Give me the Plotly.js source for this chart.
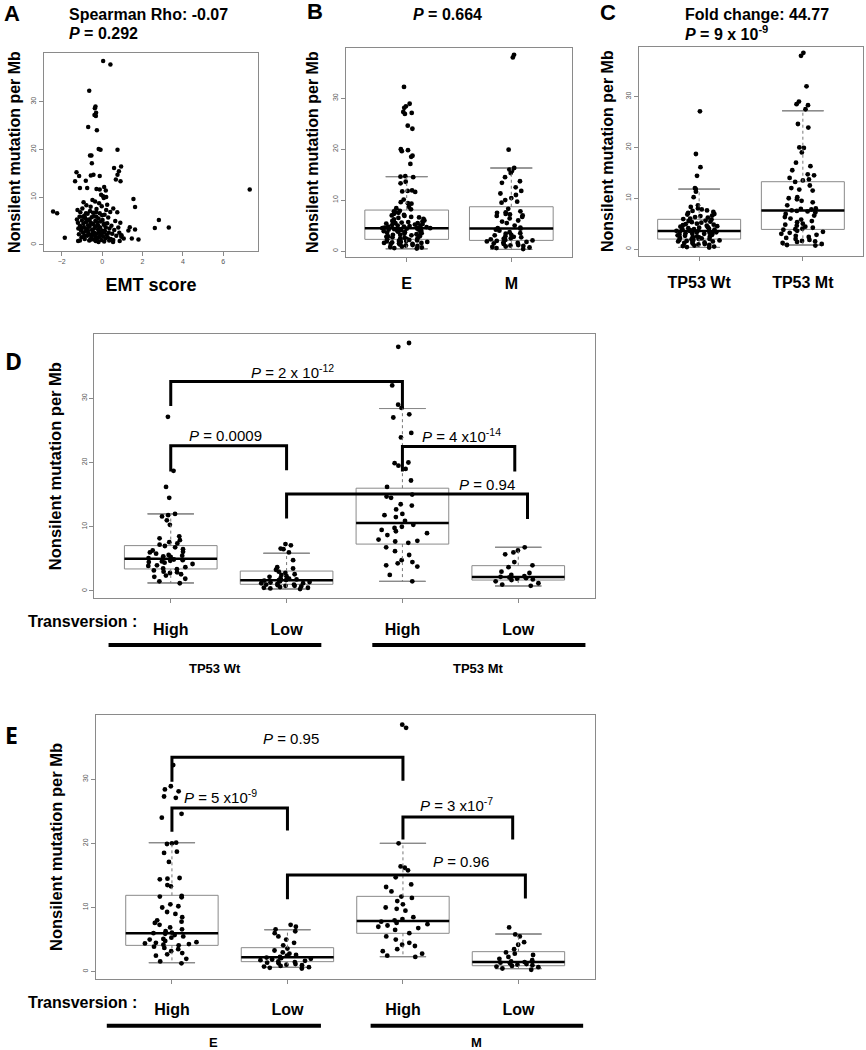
<!DOCTYPE html>
<html><head><meta charset="utf-8">
<script src="https://cdn.plot.ly/plotly-3.0.1.min.js"></script>
<style>html,body{margin:0;padding:0;background:#fff}#chart{width:866px;height:1050px}</style>
</head><body><div id="chart"></div>
<script>
// ---------- Panel A : EMT score vs nonsilent mutation rate ----------
const emtScore = [0.05,0.41,-0.64,-0.33,-0.36,-0.3,-0.38,-0.31,-0.69,-0.26,-0.6,-0.53,-0.51,-0.17,-0.08,0.76,-1.27,-1.14,-1.34,-0.81,-0.43,-0.56,-0.12,0.59,0.94,0.83,0.76,0.68,0.91,-1.1,-0.74,-0.28,-0.12,0.1,0.18,-0.05,0.05,0.2,1.55,1.63,7.31,-2.43,-2.23,-1.85,-1.19,2.61,2.81,3.3,1.37,1.3,1.63,1.47,1.8,0.96,1.07,0.54,0.87,
-1.25,-1.2,-1.18,-1.15,-1.12,-1.1,-1.08,-1.05,-1.02,-1.0,-0.98,-0.95,-0.93,-0.9,-0.88,-0.86,-0.84,-0.82,-0.8,-0.78,-0.76,-0.74,-0.72,-0.7,-0.68,-0.66,-0.64,-0.62,-0.6,-0.58,-0.56,-0.54,-0.52,-0.5,-0.48,-0.46,-0.44,-0.42,-0.4,-0.38,-0.36,-0.34,-0.32,-0.3,-0.28,-0.26,-0.24,-0.22,-0.2,-0.18,-0.16,-0.14,-0.12,-0.1,-0.08,-0.06,-0.04,-0.02,0.0,0.02,0.04,0.06,0.08,0.1,0.12,0.14,0.16,0.18,0.2,0.22,0.25,0.28,0.3,0.33,0.36,0.4,0.43,0.46,0.5,0.55,0.6,0.65,0.7,0.75,0.8,0.85,0.9,0.95,
-1.22,-0.92,-0.57,-0.35,-0.15,0.08,0.25,-0.62,-0.45,-0.29,-0.7,-0.52,-0.33,-0.18,-0.05,-0.88,-1.0,-0.6,-0.4,-0.2,0.0,-0.3,-0.8,-1.1,0.12,0.35,0.55,-0.95,-0.75,-0.5];
const mutRateA = [38.5,37.8,32.3,29.0,28.6,27.7,27.2,27.0,24.7,24.0,18.7,18.7,17.1,20.1,19.9,19.9,15.2,14.4,13.3,13.4,14.7,14.5,14.4,16.1,16.4,15.4,14.7,13.7,13.3,11.9,11.9,11.7,11.6,12.1,11.4,10.5,10.2,10.0,9.6,7.9,11.6,7.0,6.6,1.5,0.8,3.5,5.2,3.6,3.7,3.0,3.2,1.3,1.1,2.0,1.3,0.6,0.8,
5.3,4.6,3.4,2.2,5.9,4.0,6.8,3.0,1.6,5.1,7.6,2.6,4.4,3.7,6.1,1.2,5.6,2.9,4.8,8.3,3.3,1.9,6.5,4.1,2.4,5.3,0.9,3.8,7.1,2.1,4.6,1.5,5.8,3.1,9.4,2.7,4.3,1.1,6.0,3.5,2.0,5.0,0.8,3.9,7.5,2.3,4.7,1.4,3.2,5.5,2.8,1.7,6.6,3.6,2.2,4.9,1.0,8.1,3.0,5.2,1.8,2.6,4.2,0.7,6.3,2.9,1.3,3.7,7.3,2.1,4.5,1.6,5.7,2.5,3.4,6.9,1.2,4.0,2.3,7.6,3.1,5.0,1.9,6.8,3.6,2.5,4.6,1.7,
7.3,8.9,8.0,9.1,8.7,9.8,8.4,5.2,6.7,5.9,3.0,2.0,1.4,0.6,2.5,2.0,3.5,1.0,2.6,4.1,6.2,6.8,6.6,0.9,4.4,0.9,1.0,5.9,5.0,4.4];
const emtTicks = [-2,0,2,4,6];

// ---------- Panel B : E vs M ----------
const catsB = ['E','M'];
const valsB_E = [32.2,28.9,28.4,28.1,27.3,27.1,26.9,24.6,24.0,20.0,19.8,19.6,18.7,18.5,17.1,14.7,14.6,14.5,13.6,13.3,11.9,11.8,11.7,11.6,10.1,9.6,9.4,9.3,8.7,8.4,8.2,7.9,7.8,7.6,7.5,7.3,7.1,7.0,6.9,6.7,6.6,6.5,6.3,6.2,6.0,5.9,5.8,5.7,5.6,5.5,5.5,5.4,5.3,5.2,5.1,5.0,5.0,4.9,4.8,4.8,4.7,4.6,4.6,4.5,4.5,4.4,4.4,4.3,4.2,4.2,4.1,4.0,3.9,3.9,3.8,3.7,3.6,3.6,3.5,3.4,3.3,3.2,3.2,3.1,3.0,2.9,2.9,2.8,2.7,2.6,2.5,2.5,2.4,2.3,2.3,2.2,2.1,2.0,2.0,1.9,1.8,1.8,1.7,1.6,1.6,1.5,1.4,1.4,1.3,1.2,1.1,1.0,0.9,0.8,0.7,0.6,0.5];
const valsB_M = [38.5,38.0,19.9,16.3,16.0,15.7,15.3,14.5,13.7,13.4,12.5,11.8,11.3,11.0,10.4,10.0,9.7,9.5,8.3,7.8,7.6,7.5,7.3,7.2,7.0,6.9,6.7,6.4,6.0,5.8,5.5,5.0,4.6,4.5,4.4,4.2,4.0,3.7,3.5,3.4,3.2,3.1,2.9,2.8,2.7,2.5,2.4,2.3,2.2,2.1,2.0,1.9,1.8,1.7,1.6,1.5,1.4,1.2,1.1,1.0,0.9,0.8,0.7,0.6,0.4];
const q1B = [2.3,2.1], medB = [4.5,4.45], q3B = [8.05,8.7], loB = [0.45,0.33], hiB = [14.6,16.3];

// ---------- Panel C : TP53 Wt vs Mt ----------
const catsC = ['TP53 Wt','TP53 Mt'];
const valsC_Wt = [27.1,18.7,16.1,14.4,12.0,11.8,11.3,10.2,8.6,8.3,8.0,7.8,7.6,7.5,7.3,7.1,6.9,6.8,6.6,6.5,6.3,6.2,6.0,5.9,5.8,5.6,5.5,5.4,5.3,5.2,5.0,4.9,4.8,4.7,4.6,4.5,4.4,4.3,4.2,4.1,4.0,3.9,3.9,3.8,3.7,3.6,3.6,3.5,3.5,3.4,3.3,3.3,3.2,3.1,3.0,3.0,2.9,2.8,2.8,2.7,2.6,2.5,2.5,2.4,2.3,2.2,2.2,2.1,2.0,2.0,1.9,1.8,1.8,1.7,1.6,1.5,1.5,1.4,1.3,1.2,1.1,1.0,0.9,0.8,0.7,0.6,0.5,0.4,0.3];
const valsC_Mt = [38.6,38.0,32.0,29.0,28.5,28.3,27.5,24.6,23.9,20.0,19.9,19.0,17.0,16.3,15.5,14.7,14.5,14.0,13.7,13.5,13.2,12.5,12.0,11.7,11.5,10.2,10.0,9.8,9.5,9.2,8.6,8.0,7.9,7.8,7.6,7.5,7.4,7.2,6.9,6.6,6.3,6.0,5.8,5.5,5.3,5.0,4.8,4.6,4.4,4.2,4.0,3.9,3.8,3.6,3.4,3.2,3.0,2.8,2.6,2.4,2.2,2.0,1.8,1.6,1.5,1.4,1.2,1.0,0.8,0.7];
const q1C = [1.97,3.87], medC = [3.54,7.6], q3C = [5.85,13.25], loC = [0.33,0.8], hiC = [11.8,27.2];

// ---------- Panel D : transversion within TP53 status ----------
const catsD = ['High','Low','High','Low'];
const valsD_HighWt = [27.1,18.7,16.2,14.5,12.0,11.8,11.6,11.0,10.3,8.5,8.2,7.9,7.6,7.4,7.2,7.0,6.8,6.5,6.3,6.1,6.0,5.8,5.6,5.5,5.4,5.3,5.1,5.0,4.9,4.8,4.7,4.6,4.5,4.4,4.2,4.0,3.9,3.7,3.5,3.4,3.2,3.0,2.9,2.8,2.6,2.4,2.2,1.9,1.5,1.2];
const valsD_LowWt = [7.3,7.1,6.6,6.5,6.0,4.8,3.7,3.5,3.3,3.0,2.8,2.6,2.5,2.3,2.2,2.0,1.9,1.8,1.7,1.7,1.6,1.5,1.4,1.3,1.2,1.2,1.1,1.0,1.0,0.9,0.8,0.8,0.7,0.6,0.5,0.5,0.4,0.3];
const valsD_HighMt = [38.6,38.0,32.0,29.0,28.5,27.5,27.0,24.6,23.9,20.0,19.9,19.5,19.0,17.2,16.2,15.0,14.7,14.5,13.5,13.3,12.7,12.0,11.8,11.5,10.9,10.3,10.0,9.8,9.5,9.3,9.0,8.7,8.0,7.8,7.7,7.5,6.8,6.2,5.6,4.8,4.5,4.3,4.0,3.8,2.5,1.5];
const valsD_LowMt = [6.8,6.3,6.0,5.7,4.5,4.0,3.7,3.0,2.8,2.5,2.3,2.2,2.1,2.0,1.9,1.8,1.7,1.5,1.2,1.0,0.8];
const q1D = [3.43,1.04,7.3,1.7], medD = [5.03,1.66,10.6,2.18], q3D = [7.06,3.1,16.0,3.94], loD = [1.25,0.31,1.5,0.78], hiD = [12.0,5.87,28.4,6.8];
const brFromD = [1,1,3,2], brToD = [3,2,3.97,4.08], brTopD = [32.6,22.6,22.5,15.1], brLeftEndD = [28.8,18.6,18.6,11.3], brRightEndD = [28.5,18.8,18.6,11.2];
const brLabelD = ['<i>P</i> = 2 x 10<sup>-12</sup>','<i>P</i> = 0.0009','<i>P</i> = 4 x10<sup>-14</sup>','<i>P</i> = 0.94'];
const brLabelXD = [2.05,1.47,3.51,3.73], brLabelYD = [34.1,24.2,24.2,16.6];
const groupNamesD = ['TP53 Wt','TP53 Mt'], groupStartD = [0.463,2.74], groupEndD = [2.30,4.58];

// ---------- Panel E : transversion within EMT status ----------
const catsE = ['High','Low','High','Low'];
const valsE_HighE = [32.2,28.9,28.4,28.1,27.3,27.1,24.6,24.0,20.1,20.0,19.9,18.7,18.5,17.1,14.6,14.5,14.4,13.5,13.3,11.8,11.7,11.6,10.5,10.2,10.0,9.3,9.0,8.5,8.0,7.8,7.6,7.3,6.9,6.6,6.3,6.1,6.0,5.9,5.7,5.5,5.3,5.1,5.0,4.8,4.6,4.5,4.4,4.3,4.2,4.1,3.9,3.7,3.5,3.2,2.9,2.7,2.5,2.0,1.6,1.3];
const valsE_LowE = [7.3,7.0,6.6,6.3,6.0,5.5,5.0,4.5,4.1,3.6,3.3,3.0,2.8,2.6,2.5,2.3,2.2,2.1,2.0,1.9,1.8,1.7,1.6,1.5,1.4,1.3,1.2,1.1,1.0,0.9,0.8,0.7,0.6,0.5];
const valsE_HighM = [38.5,38.0,20.0,16.4,16.2,15.8,14.7,13.6,13.2,12.5,11.7,11.5,11.0,10.5,10.0,9.8,9.5,8.5,8.2,8.0,7.8,7.6,7.4,7.2,7.0,6.8,6.5,6.0,5.5,5.0,4.5,4.2,4.0,3.5,3.2,2.8,2.5,2.3];
const valsE_LowM = [6.9,5.8,5.5,4.6,4.2,3.5,3.0,2.8,2.6,2.3,2.0,1.8,1.6,1.5,1.4,1.3,1.2,1.1,1.0,0.9,0.8,0.7,0.5,0.3];
const q1E = [4.1,1.56,5.98,0.93], medE = [5.98,2.24,7.9,1.51], q3E = [11.9,3.74,11.74,3.12], loE = [1.4,0.68,2.34,0.47], hiE = [20.1,6.54,20.0,5.87];
const brFromE = [1,1,3,2], brToE = [3,2,3.95,4.06], brTopE = [33.4,25.5,24.1,15.06], brLeftEndE = [29.6,21.8,20.6,11.3], brRightEndE = [29.75,22.0,20.6,11.4];
const brLabelE = ['<i>P</i> = 0.95','<i>P</i> = 5 x10<sup>-9</sup>','<i>P</i> = 3 x10<sup>-7</sup>','<i>P</i> = 0.96'];
const brLabelXE = [2.03,1.42,3.46,3.5], brLabelYE = [36.4,27.3,26.0,17.2];
const groupNamesE = ['E','M'], groupStartE = [0.436,2.72], groupEndE = [2.29,4.56];

const yTicks = [0,10,20,30];
const yTitle = 'Nonsilent mutation per Mb';

// ---------- builders ----------
const FONT = 'Liberation Sans, Arial, sans-serif';
const GRAY = '#8a8a8a';
const traces = [];

function boxPanel(ax, groups, q1, med, q3, lo, hi) {
  const xa = 'x' + ax, ya = 'y' + ax;
  const pos = groups.map((g, i) => i + 1);
  traces.push({type:'box', xaxis:xa, yaxis:ya, x:pos, q1:q1, median:med, q3:q3,
    lowerfence:q1, upperfence:q3, width:0.8, whiskerwidth:0, boxpoints:false,
    line:{color:GRAY, width:1}, fillcolor:'rgba(0,0,0,0)', hoverinfo:'skip', showlegend:false});
  const wx = [], wy = [];
  pos.forEach((p, i) => { wx.push(p, p, null, p, p, null); wy.push(q3[i], hi[i], null, q1[i], lo[i], null); });
  traces.push({type:'scatter', mode:'lines', xaxis:xa, yaxis:ya, x:wx, y:wy,
    line:{color:'#777', width:1, dash:'dot'}, hoverinfo:'skip', showlegend:false});
  const capPos = pos.concat(pos), capVal = hi.concat(lo);
  traces.push({type:'box', xaxis:xa, yaxis:ya, x:capPos, q1:capVal, median:capVal, q3:capVal,
    lowerfence:capVal, upperfence:capVal, width:0.4, whiskerwidth:0, boxpoints:false,
    line:{color:GRAY, width:1}, fillcolor:'rgba(0,0,0,0)', hoverinfo:'skip', showlegend:false});
  groups.forEach((vals, i) => {
    traces.push({type:'box', xaxis:xa, yaxis:ya, y:vals, x0:pos[i], width:0.8,
      boxpoints:'all', jitter:0.6, pointpos:0, line:{width:0, color:'rgba(0,0,0,0)'},
      fillcolor:'rgba(0,0,0,0)', marker:{color:'#000', size:4.8}, hoverinfo:'y', showlegend:false});
  });
  traces.push({type:'box', xaxis:xa, yaxis:ya, x:pos, q1:med, median:med, q3:med,
    lowerfence:med, upperfence:med, width:0.8, whiskerwidth:0, boxpoints:false,
    line:{color:'#000', width:2.5}, fillcolor:'rgba(0,0,0,0)', hoverinfo:'skip', showlegend:false});
}

function brackets(ax, from, to, top, le, re) {
  from.forEach((f, i) => {
    traces.push({type:'scatter', mode:'lines', xaxis:'x'+ax, yaxis:'y'+ax,
      x:[f, f, to[i], to[i]], y:[le[i], top[i], top[i], re[i]],
      line:{color:'#000', width:3}, hoverinfo:'skip', showlegend:false});
  });
}

traces.push({type:'scatter', mode:'markers', xaxis:'x', yaxis:'y', x:emtScore, y:mutRateA,
  marker:{color:'#000', size:4.5}, showlegend:false});

boxPanel(2, [valsB_E, valsB_M], q1B, medB, q3B, loB, hiB);
boxPanel(3, [valsC_Wt, valsC_Mt], q1C, medC, q3C, loC, hiC);
boxPanel(4, [valsD_HighWt, valsD_LowWt, valsD_HighMt, valsD_LowMt], q1D, medD, q3D, loD, hiD);
boxPanel(5, [valsE_HighE, valsE_LowE, valsE_HighM, valsE_LowM], q1E, medE, q3E, loE, hiE);
brackets(4, brFromD, brToD, brTopD, brLeftEndD, brRightEndD);
brackets(5, brFromE, brToE, brTopE, brLeftEndE, brRightEndE);

// ---------- layout ----------
const W = 866, H = 1050;
const px = v => v / W, py = v => 1 - v / H;

const frame = {showline:true, mirror:true, linecolor:GRAY, linewidth:1, ticks:'outside', ticklen:4,
  tickcolor:GRAY, showgrid:false, zeroline:false, fixedrange:true};
function yAx(n, dom, range, standoff, size) {
  return Object.assign({}, frame, {anchor:'x'+n, domain:dom, range:range, tickvals:yTicks, tickangle:-90,
    tickfont:{size:7, color:'#555', family:FONT},
    title:{text:yTitle, standoff:standoff, font:{size:size, family:FONT, weight:'bold', color:'#000'}}});
}
function xCatAx(n, dom, range, cats, standoff) {
  return Object.assign({}, frame, {anchor:'y'+n, domain:dom, range:range, tickvals:cats.map((c,i)=>i+1), ticktext:cats,
    tickfont:{size:16, family:FONT, weight:'bold', color:'#000'}, ticklabelstandoff:standoff});
}

const ann = [];
function txt(text, x, y, opts) {
  ann.push(Object.assign({text:text, x:x, y:y, xref:'paper', yref:'paper', showarrow:false,
    xanchor:'left', yanchor:'middle', font:{size:15, family:FONT, color:'#000', weight:'bold'}}, opts || {}));
}
txt('A', px(2), py(13), {font:{size:22, family:FONT, weight:'bold', color:'#000'}});
txt('B', px(305), py(11), {font:{size:22, family:FONT, weight:'bold', color:'#000'}});
txt('C', px(598), py(12), {font:{size:22, family:FONT, weight:'bold', color:'#000'}});
txt('D', px(3), py(361), {font:{size:23, family:'Open Sans, sans-serif', weight:'bold', color:'#000'}});
txt('E', px(3), py(735), {font:{size:23, family:'Open Sans, sans-serif', weight:'bold', color:'#000'}});
txt('Spearman Rho: -0.07', px(67), py(15), {font:{size:16, family:FONT, color:'#000', weight:'bold'}});
txt('<i>P</i> = 0.292', px(67), py(33), {font:{size:16, family:FONT, color:'#000', weight:'bold'}});
txt('<i>P</i> = 0.664', px(447), py(15), {xanchor:'center', font:{size:16, family:FONT, color:'#000', weight:'bold'}});
txt('Fold change: 44.77', px(683), py(15), {font:{size:16, family:FONT, color:'#000', weight:'bold'}});
txt('<i>P</i> = 9 x 10<sup>-9</sup>', px(683), py(33), {font:{size:16, family:FONT, color:'#000', weight:'bold'}});
txt('Transversion :', px(82), py(621), {xanchor:'center', font:{size:16, family:FONT, color:'#000', weight:'bold'}});
txt('Transversion :', px(82), py(1002), {xanchor:'center', font:{size:16, family:FONT, color:'#000', weight:'bold'}});
brLabelD.forEach((t, i) => ann.push({text:t, x:brLabelXD[i], y:brLabelYD[i], xref:'x4', yref:'y4',
  showarrow:false, xanchor:'center', yanchor:'middle', font:{size:15, family:FONT, color:'#000'}}));
brLabelE.forEach((t, i) => ann.push({text:t, x:brLabelXE[i], y:brLabelYE[i], xref:'x5', yref:'y5',
  showarrow:false, xanchor:'center', yanchor:'middle', font:{size:15, family:FONT, color:'#000'}}));
const shapes = [];
groupNamesD.forEach((g, i) => {
  shapes.push({type:'line', xref:'x4', yref:'paper', x0:groupStartD[i], x1:groupEndD[i], y0:py(645), y1:py(645), line:{color:'#000', width:4}});
  ann.push({text:g, x:(groupStartD[i]+groupEndD[i])/2, y:py(668), xref:'x4', yref:'paper', showarrow:false,
    xanchor:'center', yanchor:'middle', font:{size:13, family:FONT, color:'#000', weight:'bold'}});
});
groupNamesE.forEach((g, i) => {
  shapes.push({type:'line', xref:'x5', yref:'paper', x0:groupStartE[i], x1:groupEndE[i], y0:py(1025.7), y1:py(1025.7), line:{color:'#000', width:4}});
  ann.push({text:g, x:(groupStartE[i]+groupEndE[i])/2, y:py(1042), xref:'x5', yref:'paper', showarrow:false,
    xanchor:'center', yanchor:'middle', font:{size:13, family:FONT, color:'#000', weight:'bold'}});
});

const layout = {
  width:W, height:H, margin:{l:0, r:0, t:0, b:0}, paper_bgcolor:'#fff', plot_bgcolor:'#fff',
  showlegend:false, boxmode:'overlay', font:{family:FONT, color:'#000'},
  xaxis: Object.assign({}, frame, {anchor:'y', domain:[px(44), px(258)], range:[-2.88, 7.72], tickvals:emtTicks,
    tickfont:{size:7, color:'#555', family:FONT},
    title:{text:'EMT score', standoff:13, font:{size:18, family:FONT, weight:'bold', color:'#000'}}}),
  yaxis: yAx('', [py(251), py(53)], [-1.3, 40.2], 5, 16),
  xaxis2: xCatAx(2, [px(346), px(572)], [0.42, 2.58], catsB, 8),
  yaxis2: yAx(2, [py(256.7), py(47.7)], [-1.1, 39.9], 9, 16),
  xaxis3: xCatAx(3, [px(639), px(863)], [0.42, 2.58], catsC, 8),
  yaxis3: yAx(3, [py(255.7), py(46.7)], [-1.3, 39.8], 7, 16),
  xaxis4: xCatAx(4, [px(94.3), px(594.7)], [0.34, 4.66], catsD, 12),
  yaxis4: yAx(4, [py(598.3), py(334)], [-1.14, 40.0], 14, 16.5),
  xaxis5: xCatAx(5, [px(95.7), px(594.7)], [0.34, 4.66], catsE, 12),
  yaxis5: yAx(5, [py(979), py(715)], [-1.14, 40.0], 15, 16.5),
  annotations: ann, shapes: shapes
};

Plotly.newPlot('chart', traces, layout, {displayModeBar:false, staticPlot:true});
</script></body></html>
